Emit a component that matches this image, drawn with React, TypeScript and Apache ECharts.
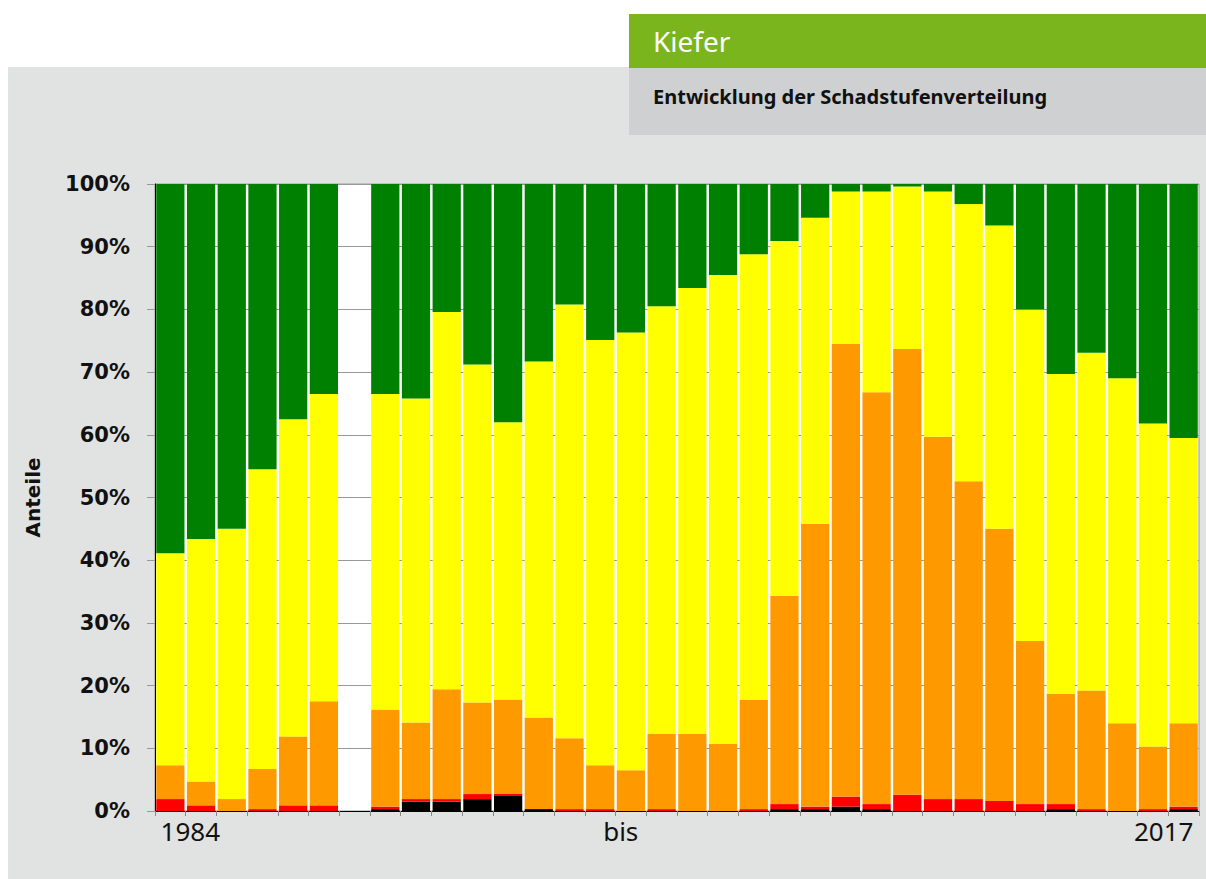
import React, { useEffect, useRef } from "react";
import * as echarts from "echarts";

const years = [
  "1984", "1985", "1986", "1987", "1988", "1989", "1990", "1991", "1992", "1993",
  "1994", "1995", "1996", "1997", "1998", "1999", "2000", "2001", "2002", "2003",
  "2004", "2005", "2006", "2007", "2008", "2009", "2010", "2011", "2012", "2013",
  "2014", "2015", "2016", "2017",
];

// Shares per damage class (percent); 1990 has no survey (null)
const stufe4 = [0, 0, 0, 0, 0, 0, null, 0.3, 1.5, 1.5, 1.9, 2.4, 0.3, 0, 0, 0, 0, 0, 0, 0, 0.3, 0.3, 0.7, 0.3, 0, 0, 0, 0, 0, 0.3, 0, 0, 0, 0.3];
const stufe3 = [1.9, 0.9, 0, 0.3, 0.9, 0.9, null, 0.4, 0.4, 0.4, 0.8, 0.4, 0, 0.3, 0.3, 0, 0.3, 0, 0, 0.3, 0.8, 0.4, 1.6, 0.8, 2.6, 1.9, 1.9, 1.6, 1.1, 0.8, 0.3, 0, 0.3, 0.4];
const stufe2 = [5.4, 3.8, 1.9, 6.4, 11.0, 16.6, null, 15.5, 12.2, 17.5, 14.6, 15.0, 14.6, 11.3, 7.0, 6.5, 12.0, 12.3, 10.7, 17.4, 33.2, 45.1, 72.2, 65.7, 71.1, 57.8, 50.7, 43.4, 26.0, 17.6, 18.9, 14.0, 10.0, 13.3];
const stufe1 = [33.8, 38.7, 43.1, 47.8, 50.6, 49.0, null, 50.3, 51.7, 60.2, 53.9, 44.2, 56.8, 69.2, 67.8, 69.8, 68.2, 71.1, 74.8, 71.1, 56.6, 48.8, 24.3, 32.0, 25.9, 39.1, 44.2, 48.4, 52.9, 51.0, 53.9, 55.0, 51.5, 45.5];
const stufe0 = [58.9, 56.6, 55.0, 45.5, 37.5, 33.5, null, 33.5, 34.2, 20.4, 28.8, 38.0, 28.3, 19.2, 24.9, 23.7, 19.5, 16.6, 14.5, 11.2, 9.1, 5.4, 1.2, 1.2, 0.4, 1.2, 3.2, 6.6, 20.0, 30.3, 26.9, 31.0, 38.2, 40.5];

const seriesNames = ["Stufe 4", "Stufe 3", "Stufe 2", "Stufe 1", "Stufe 0"];
const seriesColors = ["#000000", "#ff0000", "#ff9900", "#ffff00", "#008000"];

// x-axis tick labels: first year, "bis", last year
const xLabelFirst = "1984";
const xLabelMiddle = "bis";
const xLabelMiddleAt = "1998";
const xLabelLast = "2017";

const title = "Kiefer";
const subtitle = "Entwicklung der Schadstufenverteilung";
const yAxisName = "Anteile";

export default function App() {
  const ref = useRef<HTMLDivElement>(null);

  useEffect(() => {
    if (!ref.current) return;
    const chart = echarts.init(ref.current, null, { renderer: "svg" });
    const data = [stufe4, stufe3, stufe2, stufe1, stufe0];
    const labelStyle = { fontFamily: "Noto Sans", fontSize: 26, color: "#111111" };
    chart.setOption({
      animation: false,
      backgroundColor: "transparent",
      graphic: [
        { type: "rect", shape: { x: 629, y: 14, width: 577, height: 54 }, style: { fill: "#7ab51d" } },
        { type: "rect", shape: { x: 629, y: 68, width: 577, height: 67 }, style: { fill: "#cfd0d2" } },
        {
          type: "text", x: 653, y: 41,
          style: { text: title, fill: "#ffffff", font: "400 28px 'Noto Sans'", textVerticalAlign: "middle" },
        },
        {
          type: "text", x: 653, y: 96,
          style: { text: subtitle, fill: "#111111", font: "700 20px 'Noto Sans'", textVerticalAlign: "middle" },
        },
      ],
      grid: {
        left: 155, top: 184, right: 7, bottom: 68,
        show: true, backgroundColor: "#ffffff", borderColor: "#999999", borderWidth: 1,
      },
      xAxis: {
        type: "category",
        data: years,
        axisLine: { lineStyle: { color: "#000000", width: 1 } },
        axisTick: { show: true, interval: 0, length: 5, lineStyle: { color: "#888888" } },
        splitLine: { show: false },
        axisLabel: {
          interval: 0,
          showMinLabel: true,
          showMaxLabel: true,
          margin: 7,
          ...labelStyle,
          formatter: (value: string) => {
            if (value === xLabelFirst) return "{l|" + xLabelFirst + "}";
            if (value === xLabelMiddle || value === xLabelMiddleAt) return "{m|" + xLabelMiddle + "}";
            if (value === xLabelLast) return "{r|" + xLabelLast + "}";
            return "";
          },
          rich: {
            l: { ...labelStyle, padding: [0, 0, 0, 40] },
            m: { ...labelStyle, padding: [0, 0, 0, 41] },
            r: { ...labelStyle, padding: [0, 40, 0, 0] },
          },
        },
      },
      yAxis: {
        type: "value",
        min: 0, max: 100, interval: 10,
        name: yAxisName,
        nameLocation: "middle",
        nameRotate: 90,
        nameGap: 112,
        nameTextStyle: { fontFamily: "DejaVu Sans", fontWeight: "bold", fontSize: 20, color: "#111111" },
        axisLine: { show: true, lineStyle: { color: "#000000", width: 1 } },
        axisTick: { show: true, length: 8, lineStyle: { color: "#999999" } },
        splitLine: { show: true, lineStyle: { color: "#999999", width: 1 } },
        axisLabel: {
          formatter: "{value}%",
          margin: 25,
          fontFamily: "DejaVu Sans",
          fontWeight: "bold",
          fontSize: 21,
          color: "#111111",
        },
      },
      series: data.map((d, i) => ({
        name: seriesNames[i],
        type: "bar",
        stack: "total",
        data: d,
        barCategoryGap: "8%",
        itemStyle: { color: seriesColors[i] },
      })),
    });
    return () => chart.dispose();
  }, []);

  return (
    <div style={{ position: "fixed", left: 0, top: 0, width: 1206, height: 879, background: "#ffffff" }}>
      <div style={{ position: "absolute", left: 8, top: 67, width: 1198, height: 812, background: "#e1e3e2" }} />
      <div ref={ref} style={{ position: "absolute", left: 0, top: 0, width: 1206, height: 879 }} />
    </div>
  );
}
